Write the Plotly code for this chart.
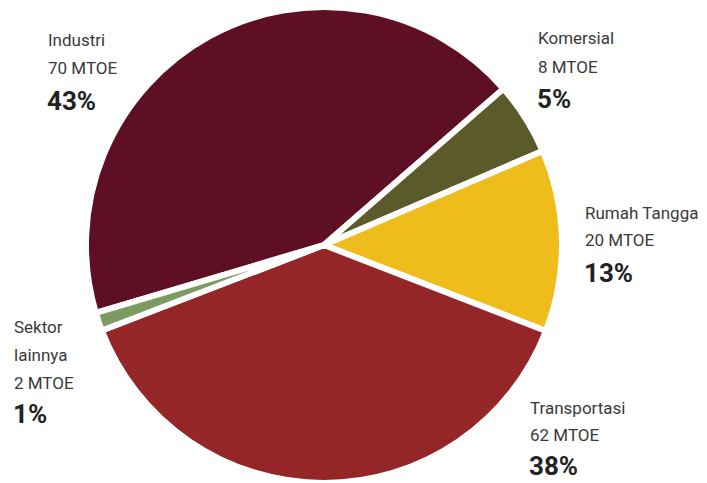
import plotly.graph_objects as go

# Final energy consumption by sector (MTOE)
sectors = ["Industri", "Komersial", "Rumah Tangga", "Transportasi", "Sektor lainnya"]
mtoe = [70, 8, 20, 62, 2]
percent_labels = ["43%", "5%", "13%", "38%", "1%"]
colors = ["#5f0f25", "#5b5a2b", "#eebd1b", "#952628", "#7c9b63"]

W, H = 707, 483

fig = go.Figure()
fig.add_trace(go.Pie(
    labels=sectors,
    values=mtoe,
    sort=False,
    direction="clockwise",
    rotation=253.4,
    marker=dict(colors=colors, line=dict(color="white", width=6)),
    textinfo="none",
    hoverinfo="label+value+percent",
    showlegend=False,
    domain=dict(x=[0.1216, 0.7949], y=[0.0, 0.9855]),
))

# Label blocks: (left x px, centre y of each line px); the name may span two lines
name_lines = {
    "Industri": ["Industri"],
    "Komersial": ["Komersial"],
    "Rumah Tangga": ["Rumah Tangga"],
    "Transportasi": ["Transportasi"],
    "Sektor lainnya": ["Sektor", "lainnya"],
}
label_pos = {
    "Industri": (46, [40, 68, 101]),
    "Komersial": (536, [38, 67, 99]),
    "Rumah Tangga": (583, [213, 240, 273]),
    "Transportasi": (528, [408, 435, 466]),
    "Sektor lainnya": (12, [327, 355, 383, 414]),
}

font_family = "Roboto, 'Noto Sans', sans-serif"
for name, val, pct in zip(sectors, mtoe, percent_labels):
    x0, ys = label_pos[name]
    lines = name_lines[name] + [f"{val} MTOE"]
    for text, y in zip(lines, ys[:-1]):
        fig.add_annotation(
            x=x0 / W, y=1 - y / H, xref="paper", yref="paper",
            xanchor="left", yanchor="middle", showarrow=False,
            text=text, font=dict(family=font_family, size=17, color="#3a3a3a"),
        )
    fig.add_annotation(
        x=x0 / W, y=1 - ys[-1] / H, xref="paper", yref="paper",
        xanchor="left", yanchor="middle", showarrow=False, borderpad=0,
        text=f"<b>{pct}</b>", font=dict(family=font_family, size=26, color="#222222"),
    )

fig.update_layout(
    width=W, height=H,
    margin=dict(l=0, r=0, t=0, b=0),
    paper_bgcolor="white", plot_bgcolor="white",
)

fig.write_html("out.html")
